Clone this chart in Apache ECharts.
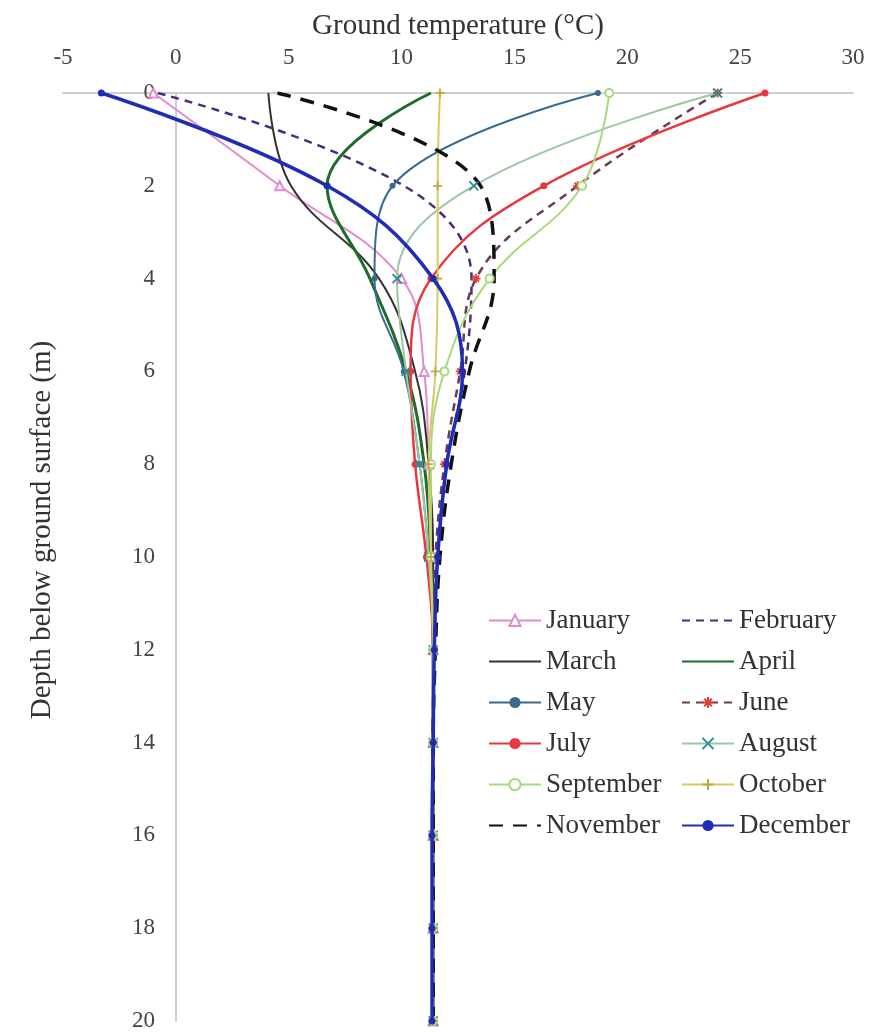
<!DOCTYPE html>
<html>
<head>
<meta charset="utf-8">
<script src="https://cdn.jsdelivr.net/npm/echarts@6/dist/echarts.min.js"></script>
<style>
  html, body { margin: 0; padding: 0; background: #ffffff; }
  #chart { width: 889px; height: 1033px; }
</style>
</head>
<body>
<div id="chart"></div>
<script>
// Depth of each measurement below the ground surface (m)
const depths = [0, 2, 4, 6, 8, 10, 12, 14, 16, 18, 20];

// Monthly ground temperature profiles (°C) at the depths above
const january   = [-1.0, 4.6, 10.0, 11.0, 11.2, 11.4, 11.4, 11.4, 11.4, 11.4, 11.4];
const february  = [-0.8, 10.1, 13.1, 12.8, 12.0, 11.6, 11.45, 11.4, 11.4, 11.4, 11.4];
const march     = [4.1, 5.1, 9.0, 10.6, 11.2, 11.4, 11.4, 11.4, 11.4, 11.4, 11.4];
const april     = [11.3, 6.7, 8.6, 10.2, 11.0, 11.3, 11.4, 11.4, 11.4, 11.4, 11.4];
const may       = [18.7, 9.6, 8.8, 10.1, 10.8, 11.2, 11.4, 11.4, 11.4, 11.4, 11.4];
const june      = [24.0, 17.8, 13.3, 12.6, 11.9, 11.5, 11.4, 11.4, 11.4, 11.4, 11.4];
const july      = [26.1, 16.3, 11.3, 10.4, 10.6, 11.1, 11.4, 11.4, 11.4, 11.4, 11.4];
const august    = [24.0, 13.2, 9.8, 10.2, 10.8, 11.2, 11.4, 11.4, 11.4, 11.4, 11.4];
const september = [19.2, 18.0, 13.9, 11.9, 11.3, 11.3, 11.4, 11.4, 11.4, 11.4, 11.4];
const october   = [11.7, 11.6, 11.6, 11.5, 11.2, 11.3, 11.4, 11.4, 11.4, 11.4, 11.4];
const november  = [4.5, 13.5, 14.1, 13.0, 12.2, 11.7, 11.5, 11.4, 11.4, 11.4, 11.4];
const december  = [-3.3, 6.7, 11.4, 12.7, 12.0, 11.6, 11.45, 11.4, 11.35, 11.35, 11.35];

const monthNames = ['January', 'February', 'March', 'April', 'May', 'June',
                    'July', 'August', 'September', 'October', 'November', 'December'];
const tempTicks = [-5, 0, 5, 10, 15, 20, 25, 30];
const depthTicks = [0, 2, 4, 6, 8, 10, 12, 14, 16, 18, 20];

const FONT = '"Liberation Serif", "DejaVu Serif", serif';
const CROSS = 'path://M0,0L10,10M10,0L0,10';
const PLUS = 'path://M5,0L5,10M0,5L10,5';
const STAR = 'path://M5,0L5,10M0,5L10,5M1.6,1.6L8.4,8.4M1.6,8.4L8.4,1.6';

function profile(name, temps, opt) {
  const stroked = opt.stroke != null;
  const item = { color: opt.color };
  if (stroked) {
    item.borderColor = opt.stroke;
    item.borderWidth = 1.8;
  }
  return {
    name: name,
    type: 'line',
    smooth: 0.4,
    data: temps.map((t, i) => [t, depths[i]]),
    symbol: opt.symbol || 'none',
    symbolSize: opt.size || 7,
    lineStyle: { color: opt.color, width: opt.width || 2, type: opt.dash || 'solid' },
    itemStyle: item,
    emphasis: { disabled: true },
    z: opt.z || 2
  };
}

const styles = [
  { color: '#e28ad0', width: 2, symbol: 'emptyTriangle', size: 9 },
  { color: '#4a2c7e', width: 2.5, dash: [8, 6] },
  { color: '#333333', width: 2 },
  { color: '#1e6b2a', width: 3 },
  { color: '#3a6a8c', width: 2, symbol: 'circle', size: 6 },
  { color: '#6a3a5e', width: 2.5, dash: [8, 6], symbol: STAR, size: 9, stroke: '#e0403a' },
  { color: '#e8383d', width: 2.5, symbol: 'circle', size: 7 },
  { color: '#9cc6a4', width: 2, symbol: CROSS, size: 9, stroke: '#2a8f8f' },
  { color: '#a6d97c', width: 2, symbol: 'emptyCircle', size: 8 },
  { color: '#d8ca62', width: 2, symbol: PLUS, size: 9, stroke: '#c2a83a' },
  { color: '#111111', width: 3.5, dash: [14, 10] },
  { color: '#1f2db5', width: 3.5, symbol: 'circle', size: 7, z: 3 }
];
const profiles = [january, february, march, april, may, june,
                  july, august, september, october, november, december];

const series = profiles.map((temps, i) => profile(monthNames[i], temps, styles[i]));

// Legend entries: hide the marker for months drawn as plain lines
function legendEntry(i) {
  return styles[i].symbol ? { name: monthNames[i] } : { name: monthNames[i], itemStyle: { opacity: 0 } };
}

const legendBase = {
  orient: 'vertical',
  top: 602,
  itemWidth: 52,
  itemHeight: 14,
  itemGap: 14,
  textStyle: { fontFamily: FONT, fontSize: 27, color: '#333333' },
  selectedMode: false
};

const chart = echarts.init(document.getElementById('chart'), null, { renderer: 'canvas' });
chart.setOption({
  backgroundColor: '#ffffff',
  animation: false,
  grid: { left: 63, right: 36, top: 93, bottom: 12, containLabel: false, outerBoundsMode: 'none' },
  xAxis: {
    type: 'value',
    position: 'top',
    min: tempTicks[0],
    max: tempTicks[tempTicks.length - 1],
    interval: 5,
    name: 'Ground temperature (°C)',
    nameLocation: 'middle',
    nameGap: 50,
    nameTextStyle: { fontFamily: FONT, fontSize: 29, color: '#333333' },
    axisLine: { onZero: false, lineStyle: { color: '#cfcfcf', width: 2 } },
    axisTick: { show: false },
    splitLine: { show: false },
    axisLabel: { fontFamily: FONT, fontSize: 23, color: '#444444', margin: 24 }
  },
  yAxis: {
    type: 'value',
    inverse: true,
    min: depthTicks[0],
    max: depthTicks[depthTicks.length - 1],
    interval: 2,
    name: 'Depth below ground surface (m)',
    nameLocation: 'middle',
    nameGap: 6,
    nameTextStyle: { fontFamily: FONT, fontSize: 29, color: '#333333', padding: [0, 0, 0, 54] },
    axisLine: { onZero: true, lineStyle: { color: '#cfcfcf', width: 2 } },
    axisTick: { show: false },
    splitLine: { show: false },
    axisLabel: { fontFamily: FONT, fontSize: 23, color: '#444444', margin: -92 }
  },
  legend: [
    Object.assign({}, legendBase, { left: 483, data: [0, 2, 4, 6, 8, 10].map(legendEntry) }),
    Object.assign({}, legendBase, { left: 676, data: [1, 3, 5, 7, 9, 11].map(legendEntry) })
  ],
  series: series
});
</script>
</body>
</html>
